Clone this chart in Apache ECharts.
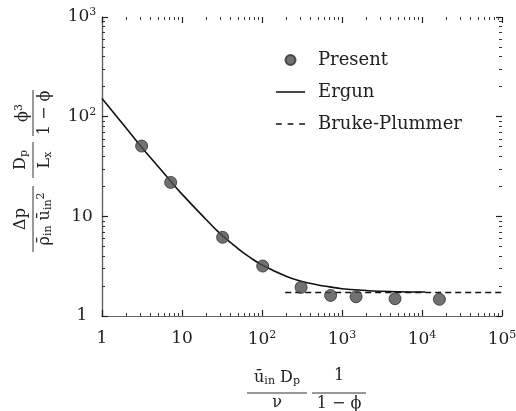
<!DOCTYPE html>
<html>
<head>
<meta charset="utf-8">
<script src="https://cdn.jsdelivr.net/npm/echarts@6/dist/echarts.min.js"></script>
<style>html,body{margin:0;padding:0;background:#fff;}#c{width:516px;height:411px;}</style>
</head>
<body>
<div id="c"></div>
<script>
// ---- data ----
const presentX = [3.13, 7.22, 32.2, 102, 308, 720, 1500, 4600, 16500];
const presentY = [50.7, 21.9, 6.16, 3.17, 1.94, 1.61, 1.56, 1.49, 1.47];
const ergunX = [1, 2, 3, 5, 7, 10, 20, 30, 50, 70, 100, 200, 300, 500, 700, 1000, 2000, 3000, 5000, 11000];
const ergunY = [152, 77, 51.5, 31.8, 23.2, 16.7, 9.3, 6.7, 4.75, 3.9, 3.25, 2.5, 2.25, 2.05, 1.96, 1.88, 1.8, 1.77, 1.75, 1.74];
const burkeX = [195, 100000];
const burkeY = [1.72, 1.72];
const xTicks = [1, 10, 100, 1000, 10000, 100000];
const yTicks = [1, 10, 100, 1000];
const seriesNames = ['Present', 'Ergun', 'Bruke-Plummer'];

const FONT = '"DejaVu Serif", serif';
const GRID = { left: 102, top: 17, right: 14, bottom: 95 };
const PLOT_W = 516 - GRID.left - GRID.right;   // 400
const PLOT_H = 411 - GRID.top - GRID.bottom;   // 299

// minor tick positions (2..9 within each decade), expressed as exponents
function minorExp(decades) {
  const out = [];
  for (let i = 0; i < decades.length - 1; i++) for (let k = 2; k <= 9; k++) out.push(Math.log10(decades[i] * k));
  return out;
}
function fmt(v) {
  const e = Math.round(Math.log10(v));
  if (e === 0) return '1';
  if (e === 1) return '10';
  return '10{sup|' + e + '}';
}
const labelRich = { sup: { fontSize: 11, fontFamily: FONT, color: '#222', padding: [0, 0, 9, 0] } };
const zip = (a, b) => a.map((v, i) => [v, b[i]]);

function logAxis(pos, vals, lineColor, label) {
  return {
    type: 'log', logBase: 10, position: pos,
    min: vals[0], max: vals[vals.length - 1],
    axisLine: { show: true, lineStyle: { color: lineColor, width: 1.2 } },
    axisTick: { show: false },
    axisLabel: label || { show: false },
    splitLine: { show: false }
  };
}
// tick-only axis placed on the opposite edge (negative offset) so its outward ticks point into the plot
function tickAxis(pos, offset, vals, minor) {
  const n = Math.round(Math.log10(vals[vals.length - 1]));
  const base = {
    position: pos, offset: offset,
    axisLine: { show: false },
    axisLabel: { show: false },
    splitLine: { show: false }
  };
  if (minor) {
    return Object.assign(base, {
      type: 'value', min: 0, max: n,
      axisTick: { show: true, inside: false, length: 3, customValues: minorExp(vals), lineStyle: { color: '#333', width: 1 } }
    });
  }
  return Object.assign(base, {
    type: 'log', logBase: 10, min: vals[0], max: vals[vals.length - 1],
    axisTick: { show: true, inside: false, length: 6, lineStyle: { color: '#222', width: 1.2 } }
  });
}

const xAxes = [
  logAxis('bottom', xTicks, '#333', { show: true, formatter: fmt, rich: labelRich, fontSize: 17, fontFamily: FONT, color: '#222', margin: 14 }),
  logAxis('top', xTicks, '#666'),
  tickAxis('top', -PLOT_H, xTicks, false),     // sits on bottom edge, ticks point up
  tickAxis('top', -PLOT_H, xTicks, true),
  tickAxis('bottom', -PLOT_H, xTicks, false),  // sits on top edge, ticks point down
  tickAxis('bottom', -PLOT_H, xTicks, true)
];
const yAxes = [
  logAxis('left', yTicks, '#333', { show: true, formatter: fmt, rich: labelRich, fontSize: 17, fontFamily: FONT, color: '#222', margin: 20, align: 'center' }),
  logAxis('right', yTicks, '#666'),
  tickAxis('right', -PLOT_W, yTicks, false),   // sits on left edge, ticks point right
  tickAxis('right', -PLOT_W, yTicks, true),
  tickAxis('left', -PLOT_W, yTicks, false),    // sits on right edge, ticks point left
  tickAxis('left', -PLOT_W, yTicks, true)
];

const txt = { fontFamily: FONT, fontSize: 16, fill: '#222' };
const rich = {
  sub: { fontSize: 11, fontFamily: FONT, fill: '#222', padding: [7, 0, 0, 0] },
  sup: { fontSize: 11, fontFamily: FONT, fill: '#222', padding: [0, 0, 8, 0] }
};
function frac(x0, x1, yLine, num, den, dn, dd) {
  const cx = (x0 + x1) / 2;
  return [
    { type: 'line', shape: { x1: x0, y1: yLine, x2: x1, y2: yLine }, style: { stroke: '#333', lineWidth: 1 } },
    { type: 'text', x: cx, y: yLine - dn, style: Object.assign({ text: num, rich: rich, align: 'center', verticalAlign: 'middle' }, txt) },
    { type: 'text', x: cx, y: yLine + dd, style: Object.assign({ text: den, rich: rich, align: 'center', verticalAlign: 'middle' }, txt) }
  ];
}

const yLabel = {
  type: 'group', x: 33, y: 252, rotation: Math.PI / 2,
  children: [].concat(
    frac(0, 66, 0, 'Δp', 'ρ̄{sub|in} ū{sub|in}{sup|2}', 12, 12),
    frac(74, 110, 0, 'D{sub|p}', 'L{sub|x}', 12, 12),
    frac(116, 162, 0, 'ϕ{sup|3}', '1 − ϕ', 10, 12)
  )
};
const xLabel = {
  type: 'group', x: 0, y: 0,
  children: [].concat(
    frac(247, 307, 393, 'ū{sub|in} D{sub|p}', 'ν', 15, 10),
    frac(312, 366, 393, '1', '1 − ϕ', 17, 11)
  )
};

const lineIcon = 'path://M0,0 L30,0 L30,1.6 L0,1.6 Z';
const dashIcon = 'path://M0,0 L6,0 L6,1.6 L0,1.6 Z M12,0 L18,0 L18,1.6 L12,1.6 Z M24,0 L30,0 L30,1.6 L24,1.6 Z';

const chart = echarts.init(document.getElementById('c'), null, { renderer: 'canvas' });
chart.setOption({
  backgroundColor: '#fff',
  animation: false,
  grid: Object.assign({ containLabel: false, outerBoundsMode: 'none' }, GRID),
  xAxis: xAxes,
  yAxis: yAxes,
  legend: {
    orient: 'vertical', left: 271, top: 46,
    itemWidth: 29, itemHeight: 10, itemGap: 14,
    textStyle: { fontFamily: FONT, fontSize: 18, color: '#222', padding: [0, 0, 0, 8] },
    data: [
      { name: seriesNames[0], icon: 'circle' },
      { name: seriesNames[1], icon: lineIcon },
      { name: seriesNames[2], icon: dashIcon }
    ]
  },
  graphic: [yLabel, xLabel],
  series: [
    {
      name: seriesNames[1], type: 'line', data: zip(ergunX, ergunY), smooth: true,
      symbol: 'none', lineStyle: { color: '#111', width: 1.6 }, itemStyle: { color: '#111' }, z: 2
    },
    {
      name: seriesNames[2], type: 'line', data: zip(burkeX, burkeY),
      symbol: 'none', lineStyle: { color: '#111', width: 1.6, type: [6, 4] }, itemStyle: { color: '#111' }, z: 2
    },
    {
      name: seriesNames[0], type: 'scatter', data: zip(presentX, presentY), symbolSize: 12,
      itemStyle: { color: '#4e4e4e', borderColor: '#2e2e2e', borderWidth: 1 }, z: 3
    }
  ]
});
</script>
</body>
</html>
